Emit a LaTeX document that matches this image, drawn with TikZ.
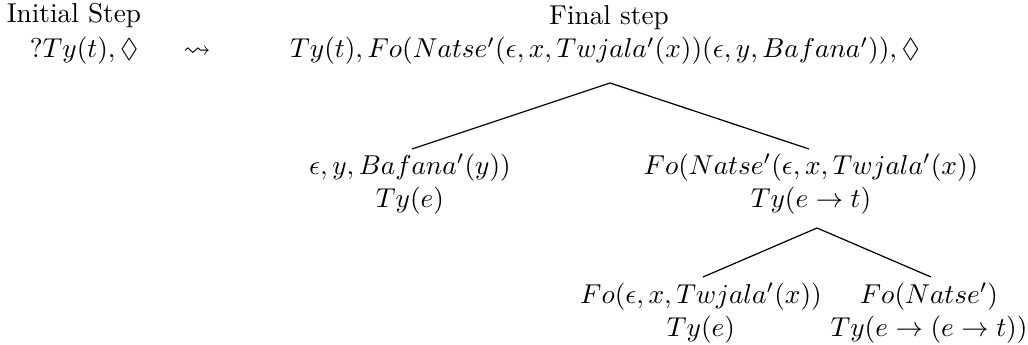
\documentclass[tikz,border=0pt]{standalone}
\usepackage{amssymb}
\begin{document}
\begin{tikzpicture}[x=0.3663pt,y=-0.3663pt,
  tn/.style={align=center,inner sep=0pt},
  lbl/.style={anchor=base,inner sep=0pt},
  edge/.style={draw=black,line width=0.45pt}]
\useasboundingbox (0,0) rectangle (1028,345);
\node[lbl] (init) at (74,23) {Initial Step};
\node[lbl] (final) at (609,25) {Final step};
\node[lbl] (start) at (84,58) {$?Ty(t),\Diamond$};
\node[lbl] (arr) at (197,58) {$\leadsto$};
\node[lbl] (root) at (605,58) {$Ty(t), Fo(Natse'(\epsilon,x,Twjala'(x))(\epsilon,y,Bafana')),\Diamond$};
\node[tn] (lc) at (410,184) {$\epsilon,y,Bafana'(y))$\\$Ty(e)$};
\node[tn] (rc) at (811,184) {$Fo(Natse'(\epsilon,x,Twjala'(x))$\\$Ty(e\rightarrow t)$};
\node[tn] (bl) at (701,313) {$Fo(\epsilon,x,Twjala'(x))$\\$Ty(e)$};
\node[tn] (br) at (929,313) {$Fo(Natse')$\\$Ty(e\rightarrow(e\rightarrow t))$};
\coordinate (a1) at (610,83);
\coordinate (a2) at (817,228);
\coordinate (lce) at (412,149);
\coordinate (rce) at (809,149);
\coordinate (ble) at (703,277);
\coordinate (bre) at (931,277);
\draw[edge] (lce) -- (a1) -- (rce);
\draw[edge] (ble) -- (a2) -- (bre);
\end{tikzpicture}
\end{document}
